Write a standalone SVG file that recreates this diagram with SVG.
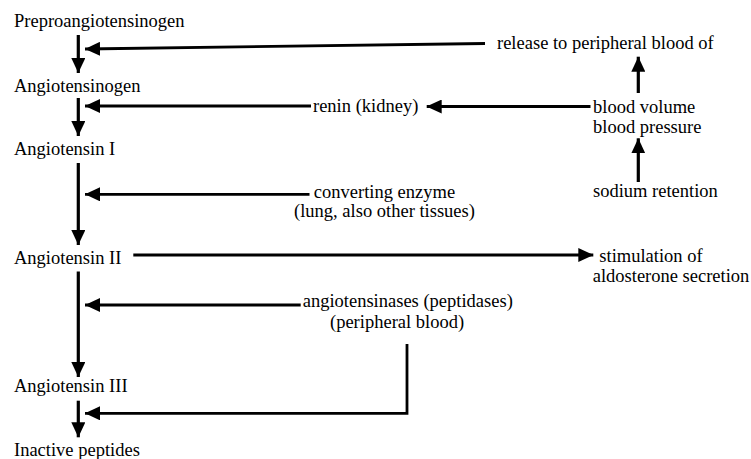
<svg xmlns="http://www.w3.org/2000/svg" width="751" height="459" viewBox="0 0 751 459">
<style>
text{font-family:'Liberation Serif','Times New Roman',Times,serif;font-size:18.5px;fill:#000}
.c{fill:none;stroke:#000;stroke-width:2.8}
.v{stroke-width:3.2}
</style>
<defs>
<marker id="ah" viewBox="0 0 15 14" refX="15" refY="7" markerWidth="15" markerHeight="14" markerUnits="userSpaceOnUse" orient="auto">
<path d="M0,0 L15,7 L0,14 Z" fill="#000"/>
</marker>
</defs>
<rect width="751" height="459" fill="#fff"/>
<g id="connectors">
<line class="c v" x1="78.3" y1="35" x2="78.3" y2="73" marker-end="url(#ah)"/>
<line class="c" x1="485" y1="43.5" x2="85" y2="49" marker-end="url(#ah)"/>
<line class="c v" x1="78.3" y1="98" x2="78.3" y2="136" marker-end="url(#ah)"/>
<line class="c" x1="311" y1="106" x2="85" y2="106" marker-end="url(#ah)"/>
<line class="c" x1="590.5" y1="106.5" x2="426.7" y2="106.5" marker-end="url(#ah)"/>
<line class="c v" x1="638.3" y1="93" x2="638.3" y2="56.7" marker-end="url(#ah)"/>
<line class="c v" x1="638.3" y1="182" x2="638.3" y2="138.3" marker-end="url(#ah)"/>
<line class="c v" x1="78.3" y1="163" x2="78.3" y2="245" marker-end="url(#ah)"/>
<line class="c" x1="309.5" y1="194.3" x2="85" y2="194.3" marker-end="url(#ah)"/>
<line class="c" x1="133.3" y1="255" x2="593.3" y2="255" marker-end="url(#ah)"/>
<line class="c v" x1="78.3" y1="271.5" x2="78.3" y2="377" marker-end="url(#ah)"/>
<line class="c" x1="300.7" y1="305" x2="85" y2="305" marker-end="url(#ah)"/>
<polyline class="c" points="407,344 407,413.3 85,413.3" marker-end="url(#ah)"/>
<line class="c v" x1="78.3" y1="400.7" x2="78.3" y2="437.3" marker-end="url(#ah)"/>
</g>
<g font-family="Liberation Serif, serif">
<g id="preproangiotensinogen"><text x="14" y="27">Preproangiotensinogen</text></g>
<g id="angiotensinogen"><text x="14" y="92">Angiotensinogen</text></g>
<g id="angiotensin-i"><text x="14" y="155">Angiotensin I</text></g>
<g id="angiotensin-ii"><text x="14" y="263.5">Angiotensin II</text></g>
<g id="angiotensin-iii"><text x="14" y="392.3">Angiotensin III</text></g>
<g id="inactive-peptides"><text x="14" y="456">Inactive peptides</text></g>
<g id="release"><text x="497" y="48.5">release to peripheral blood of</text></g>
<g id="renin"><text x="313" y="112">renin (kidney)</text></g>
<g id="blood-volume"><text x="593" y="112.5">blood volume</text><text x="593" y="133.3">blood pressure</text></g>
<g id="sodium-retention"><text x="593" y="197.3">sodium retention</text></g>
<g id="converting-enzyme"><text x="384.5" y="197.5" text-anchor="middle">converting enzyme</text><text x="384.5" y="216.7" text-anchor="middle">(lung, also other tissues)</text></g>
<g id="aldosterone"><text x="599.3" y="262.3">stimulation of</text><text x="592.7" y="281.7">aldosterone secretion</text></g>
<g id="angiotensinases"><text x="302.7" y="307">angiotensinases (peptidases)</text><text x="330" y="327.5">(peripheral blood)</text></g>
</g>
</svg>
